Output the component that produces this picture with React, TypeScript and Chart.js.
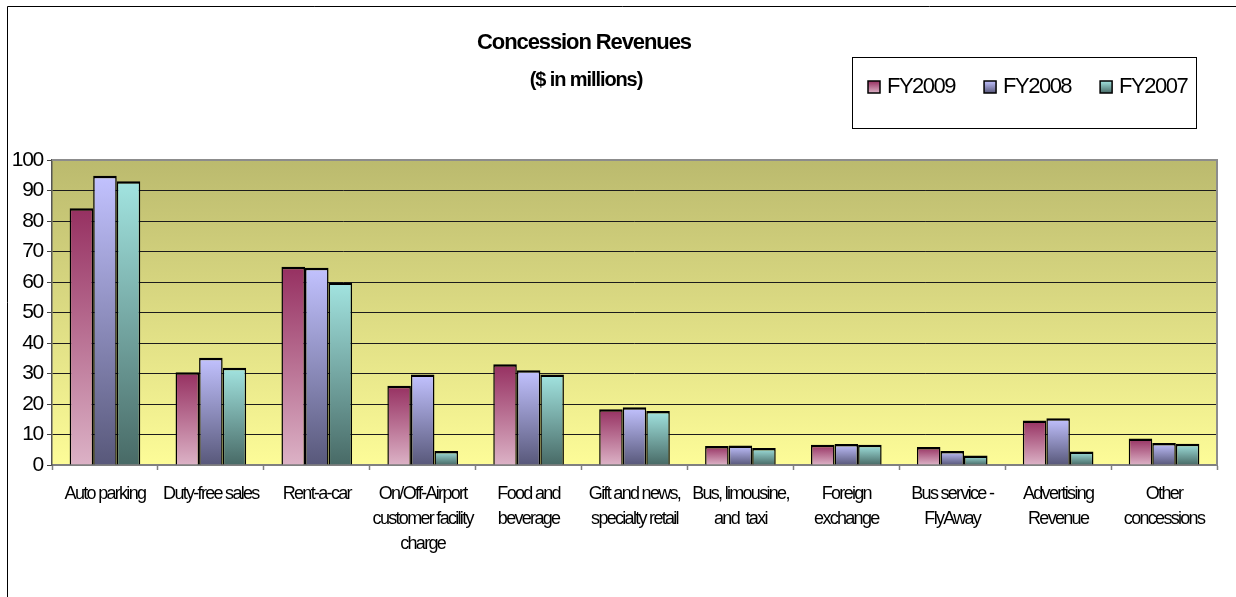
import React, { useEffect, useRef } from 'react';
import { Chart, registerables } from 'chart.js';

Chart.register(...registerables);

const chartTitle = 'Concession Revenues';
const chartSubtitle = '($ in millions)';

const categories: (string | string[])[] = [
  'Auto parking',
  'Duty-free sales',
  'Rent-a-car',
  ['On/Off-Airport', 'customer facility', 'charge'],
  ['Food and', 'beverage'],
  ['Gift and news,', 'specialty retail'],
  ['Bus, limousine,', 'and  taxi'],
  ['Foreign', 'exchange'],
  ['Bus service -', 'FlyAway'],
  ['Advertising', 'Revenue'],
  ['Other', 'concessions'],
];

const seriesNames = ['FY2009', 'FY2008', 'FY2007'];
const fy2009 = [84.2, 30.4, 65.0, 26.0, 33.0, 18.3, 6.2, 6.6, 5.9, 14.6, 8.7];
const fy2008 = [94.8, 35.2, 64.7, 29.7, 31.1, 18.9, 6.4, 6.9, 4.6, 15.3, 7.2];
const fy2007 = [93.0, 31.9, 59.8, 4.6, 29.7, 17.7, 5.6, 6.6, 3.1, 4.4, 7.0];

const yMin = 0;
const yMax = 100;
const yStep = 10;

// [top colour, bottom colour] of each series' gradient
const seriesGradients: [string, string][] = [
  ['#963061', '#dcb2c6'],
  ['#c2c2ff', '#58587a'],
  ['#a2e4e0', '#486a66'],
];

const FONT = "'Liberation Sans', Arial, Helvetica, sans-serif";

function barFill(idx: number) {
  return (c: any) => {
    const [topC, botC] = seriesGradients[idx];
    const chart = c.chart;
    if (!chart.chartArea || c.type !== 'data') return topC;
    const y = chart.scales.y;
    const v = c.parsed ? c.parsed.y : c.raw;
    const top = y.getPixelForValue(v);
    const bottom = y.getPixelForValue(0);
    const g = chart.ctx.createLinearGradient(0, top, 0, bottom);
    g.addColorStop(0, topC);
    g.addColorStop(1, botC);
    return g;
  };
}

const decorPlugin = {
  id: 'decor',
  beforeDraw(chart: any) {
    const { ctx, chartArea: a } = chart;
    ctx.save();
    ctx.fillStyle = '#ffffff';
    ctx.fillRect(0, 0, chart.width, chart.height);
    const g = ctx.createLinearGradient(0, a.top, 0, a.bottom);
    g.addColorStop(0, '#bbba6e');
    g.addColorStop(1, '#fdfc98');
    ctx.fillStyle = g;
    ctx.fillRect(a.left, a.top, a.right - a.left, a.bottom - a.top);
    ctx.restore();
    ctx.letterSpacing = '-1.7px';
  },
  afterDatasetsDraw(chart: any) {
    chart.ctx.letterSpacing = '-1.3px';
  },
  afterDraw(chart: any) {
    const { ctx, chartArea: a } = chart;
    ctx.save();
    // plot top & right borders
    ctx.strokeStyle = '#8c8c8c';
    ctx.lineWidth = 2;
    ctx.beginPath();
    ctx.moveTo(a.left, a.top);
    ctx.lineTo(a.right, a.top);
    ctx.lineTo(a.right, a.bottom);
    ctx.stroke();

    // outer frame (left & top visible)
    ctx.strokeStyle = '#000';
    ctx.lineWidth = 1;
    ctx.beginPath();
    ctx.moveTo(7.5, chart.height + 5);
    ctx.lineTo(7.5, 6.5);
    ctx.lineTo(chart.width + 5, 6.5);
    ctx.stroke();

    // title
    ctx.fillStyle = '#000';
    ctx.textAlign = 'center';
    ctx.textBaseline = 'alphabetic';
    ctx.font = `bold 22px ${FONT}`;
    ctx.letterSpacing = '-1.1px';
    ctx.fillText(chartTitle, 584, 49);
    ctx.font = `bold 20px ${FONT}`;
    ctx.letterSpacing = '-1.1px';
    ctx.fillText(chartSubtitle, 586, 86);

    // legend
    const bx = 852, by = 57, bw = 344, bh = 71;
    ctx.fillStyle = '#fff';
    ctx.fillRect(bx, by, bw, bh);
    ctx.strokeStyle = '#000';
    ctx.lineWidth = 1;
    ctx.strokeRect(bx + 0.5, by + 0.5, bw, bh);
    ctx.font = `22px ${FONT}`;
    ctx.letterSpacing = '-1.5px';
    ctx.textAlign = 'left';
    let x = bx + 16;
    chart.data.datasets.forEach((ds: any, i: number) => {
      const [topC, botC] = seriesGradients[i];
      const sy = 81, ss = 12;
      const g = ctx.createLinearGradient(0, sy, 0, sy + ss);
      g.addColorStop(0, topC);
      g.addColorStop(1, botC);
      ctx.fillStyle = g;
      ctx.fillRect(x, sy, ss, ss);
      ctx.strokeStyle = '#000';
      ctx.lineWidth = 1.5;
      ctx.strokeRect(x, sy, ss, ss);
      ctx.fillStyle = '#000';
      ctx.fillText(ds.label, x + 19, 93);
      x += 19 + ctx.measureText(ds.label).width + 29;
    });
    ctx.restore();
    ctx.letterSpacing = '0px';
  },
};

export default function App() {
  const ref = useRef<HTMLCanvasElement | null>(null);

  useEffect(() => {
    document.body.style.margin = '0';
    document.body.style.overflow = 'hidden';
    const canvas = ref.current;
    if (!canvas) return;

    const data = [fy2009, fy2008, fy2007];
    const chart = new Chart(canvas, {
      type: 'bar',
      data: {
        labels: categories,
        datasets: seriesNames.map((name, i) => ({
          label: name,
          data: data[i],
          backgroundColor: barFill(i),
          borderColor: '#000',
          borderWidth: { top: 2.5, left: 1.5, right: 1.5, bottom: 0 },
          borderSkipped: 'start',
          categoryPercentage: 0.667,
          barPercentage: 1.0,
        })),
      },
      options: {
        responsive: false,
        animation: false,
        devicePixelRatio: 1,
        layout: { padding: { top: 160, right: 19, bottom: 0, left: 0 } },
        plugins: {
          legend: { display: false },
          title: { display: false },
          tooltip: { enabled: false },
        },
        scales: {
          x: {
            offset: true,
            afterFit: (s: any) => { s.height = 132; },
            grid: {
              offset: true,
              drawOnChartArea: false,
              drawTicks: true,
              tickLength: 5,
              tickColor: '#808080',
              tickWidth: 1.5,
              color: '#808080',
            },
            border: { display: true, color: '#808080', width: 2 },
            ticks: {
              color: '#000',
              font: { family: FONT, size: 18, lineHeight: '25px' },
              padding: 12,
              maxRotation: 0,
              minRotation: 0,
              autoSkip: false,
              z: 0,
            },
          },
          y: {
            min: yMin,
            max: yMax,
            afterFit: (s: any) => { s.width = 52; },
            grid: {
              color: (c: any) => (c.tick && c.tick.value === yMax ? 'rgba(0,0,0,0)' : '#1c1c1c'),
              lineWidth: 1,
              tickLength: 5,
              tickColor: '#404040',
              drawTicks: true,
            },
            border: { display: true, color: '#555', width: 1.5 },
            ticks: {
              stepSize: yStep,
              color: '#000',
              font: { family: FONT, size: 21 },
              padding: 4,
              z: 1,
            },
          },
        },
      },
      plugins: [decorPlugin],
    });
    return () => chart.destroy();
  }, []);

  return (
    <div style={{ width: 1236, height: 597 }}>
      <canvas ref={ref} width={1236} height={597} style={{ display: 'block' }} />
    </div>
  );
}
